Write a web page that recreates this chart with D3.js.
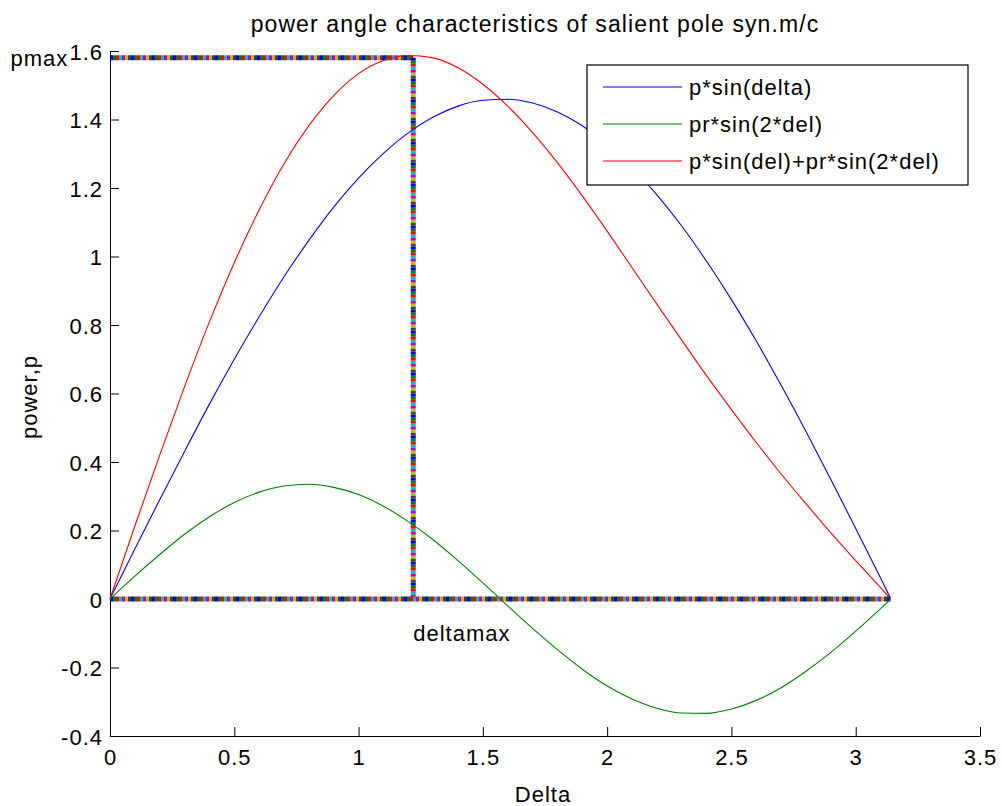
<!DOCTYPE html>
<html>
<head>
<meta charset="utf-8">
<script src="https://cdn.jsdelivr.net/npm/d3@7"></script>
<style>
  body { margin: 0; background: #fff; }
  text { font-family: "Liberation Sans", Arial, sans-serif; fill: #000; }
</style>
</head>
<body>
<svg id="svg" width="1002" height="806"></svg>
<script>
// values
const delta   = [0, 0.1, 0.2, 0.3, 0.4, 0.5, 0.6, 0.7, 0.8, 0.9, 1.0, 1.1, 1.2, 1.3, 1.4, 1.5, 1.6,
                 1.7, 1.8, 1.9, 2.0, 2.1, 2.2, 2.3, 2.4, 2.5, 2.6, 2.7, 2.8, 2.9, 3.0, 3.1, 3.14];
const pSin    = [0, 0.146, 0.290, 0.431, 0.569, 0.700, 0.824, 0.941, 1.047, 1.144, 1.229, 1.301, 1.361,
                 1.407, 1.439, 1.456, 1.459, 1.448, 1.422, 1.382, 1.328, 1.260, 1.180, 1.089, 0.986,
                 0.874, 0.753, 0.624, 0.489, 0.349, 0.206, 0.061, 0.002];
const prSin2  = [0, 0.067, 0.130, 0.189, 0.240, 0.282, 0.312, 0.330, 0.335, 0.326, 0.305, 0.271, 0.226,
                 0.173, 0.112, 0.047, -0.020, -0.086, -0.148, -0.205, -0.254, -0.292, -0.319, -0.333,
                 -0.334, -0.321, -0.296, -0.259, -0.211, -0.156, -0.094, -0.028, -0.001];
const pTotal  = [0, 0.213, 0.420, 0.620, 0.809, 0.982, 1.136, 1.271, 1.382, 1.470, 1.534, 1.572, 1.587,
                 1.580, 1.551, 1.503, 1.439, 1.362, 1.274, 1.177, 1.074, 0.968, 0.861, 0.756, 0.652,
                 0.553, 0.457, 0.365, 0.278, 0.193, 0.112, 0.033, 0.001];

const seriesNames  = ['p*sin(delta)', 'pr*sin(2*del)', 'p*sin(del)+pr*sin(2*del)'];
const seriesColors = ['#0000ff', '#008000', '#ff0000'];
const seriesValues = [pSin, prSin2, pTotal];

const xTicks = [0, 0.5, 1, 1.5, 2, 2.5, 3, 3.5];
const yTicks = [-0.4, -0.2, 0, 0.2, 0.4, 0.6, 0.8, 1, 1.2, 1.4, 1.6];

const pmax = 1.58, deltamax = 1.22, deltaEnd = 3.14;
// marker colours of the thick dotted guide lines
const stripeColors = ['#0000ff', '#008000', '#ff0000', '#00bfbf', '#bf00bf', '#bfbf00', '#404040'];

// layout
const margin = {top: 51, right: 22, bottom: 70, left: 110};
const W = 1002, H = 806;
const svg = d3.select('#svg');

const x = d3.scaleLinear().domain([0, 3.5]).range([margin.left, W - margin.right]);
const y = d3.scaleLinear().domain([-0.4, 1.6]).range([H - margin.bottom, margin.top]);

const fmt = v => String(Math.round(v * 10) / 10);

// axes (ticks point inward, box off)
const xAxis = svg.append('g')
  .attr('transform', `translate(0,${y(-0.4)})`)
  .call(d3.axisBottom(x).tickValues(xTicks).tickFormat(fmt).tickSizeInner(-9).tickSizeOuter(0).tickPadding(13));
const yAxis = svg.append('g')
  .attr('transform', `translate(${x(0)},0)`)
  .call(d3.axisLeft(y).tickValues(yTicks).tickFormat(fmt).tickSizeInner(-9).tickSizeOuter(0).tickPadding(7));

[xAxis, yAxis].forEach(a => {
  a.select('.domain').attr('stroke', '#000').attr('stroke-width', 1);
  a.selectAll('.tick line').attr('stroke', '#000');
  a.selectAll('.tick text')
    .style('font-size', '22px').style('letter-spacing', '1px')
    .attr('fill', '#000');
});
yAxis.selectAll('.tick text').attr('dy', '0.38em');
xAxis.selectAll('.tick text').attr('dy', '0.71em');

// thick multicoloured guide lines
const guides = [
  [[0, pmax], [deltamax, pmax]],
  [[deltamax, pmax], [deltamax, 0]],
  [[0, 0], [deltaEnd, 0]]
];
const seg = 3;
const gGuide = svg.append('g');
guides.forEach(gd => {
  stripeColors.forEach((c, i) => {
    gGuide.append('line')
      .attr('x1', x(gd[0][0])).attr('y1', y(gd[0][1]))
      .attr('x2', x(gd[1][0])).attr('y2', y(gd[1][1]))
      .attr('stroke', c)
      .attr('stroke-width', 5)
      .attr('stroke-dasharray', `${seg} ${seg * (stripeColors.length - 1)}`)
      .attr('stroke-dashoffset', -i * seg);
  });
});

// curves
const line = d3.line().x((d, i) => x(delta[i])).y(d => y(d)).curve(d3.curveMonotoneX);
svg.append('g').selectAll('path')
  .data(seriesValues).join('path')
    .attr('d', line)
    .attr('fill', 'none')
    .attr('stroke', (d, i) => seriesColors[i])
    .attr('stroke-width', 1.1);

// annotations
svg.append('text')
  .attr('x', x(-0.4)).attr('y', y(pmax)).attr('dy', '0.36em')
  .style('font-size', '22px').style('letter-spacing', '1px')
  .text('pmax');
svg.append('text')
  .attr('x', x(deltamax)).attr('y', y(-0.1)).attr('dy', '0.36em')
  .style('font-size', '22px').style('letter-spacing', '1px')
  .text('deltamax');

// title and axis labels
svg.append('text')
  .attr('x', 535).attr('y', 32).attr('text-anchor', 'middle')
  .style('font-size', '23px').style('letter-spacing', '1.1px')
  .text('power angle characteristics of salient pole syn.m/c');
svg.append('text')
  .attr('x', 543).attr('y', 802).attr('text-anchor', 'middle')
  .style('font-size', '22px').style('letter-spacing', '1px')
  .text('Delta');
svg.append('text')
  .attr('transform', 'translate(37,397) rotate(-90)').attr('text-anchor', 'middle')
  .style('font-size', '22px').style('letter-spacing', '1px')
  .text('power,p');

// legend
const lg = svg.append('g');
lg.append('rect')
  .attr('x', 587).attr('y', 65).attr('width', 381).attr('height', 120)
  .attr('fill', '#fff').attr('stroke', '#000').attr('stroke-width', 1.2);
seriesNames.forEach((name, i) => {
  const ry = 87 + i * 37;
  lg.append('line')
    .attr('x1', 603).attr('x2', 682).attr('y1', ry).attr('y2', ry)
    .attr('stroke', seriesColors[i]).attr('stroke-width', 1.1);
  lg.append('text')
    .attr('x', 689).attr('y', ry).attr('dy', '0.36em')
    .style('font-size', '22px').style('letter-spacing', '1px')
    .text(name);
});
</script>
</body>
</html>
